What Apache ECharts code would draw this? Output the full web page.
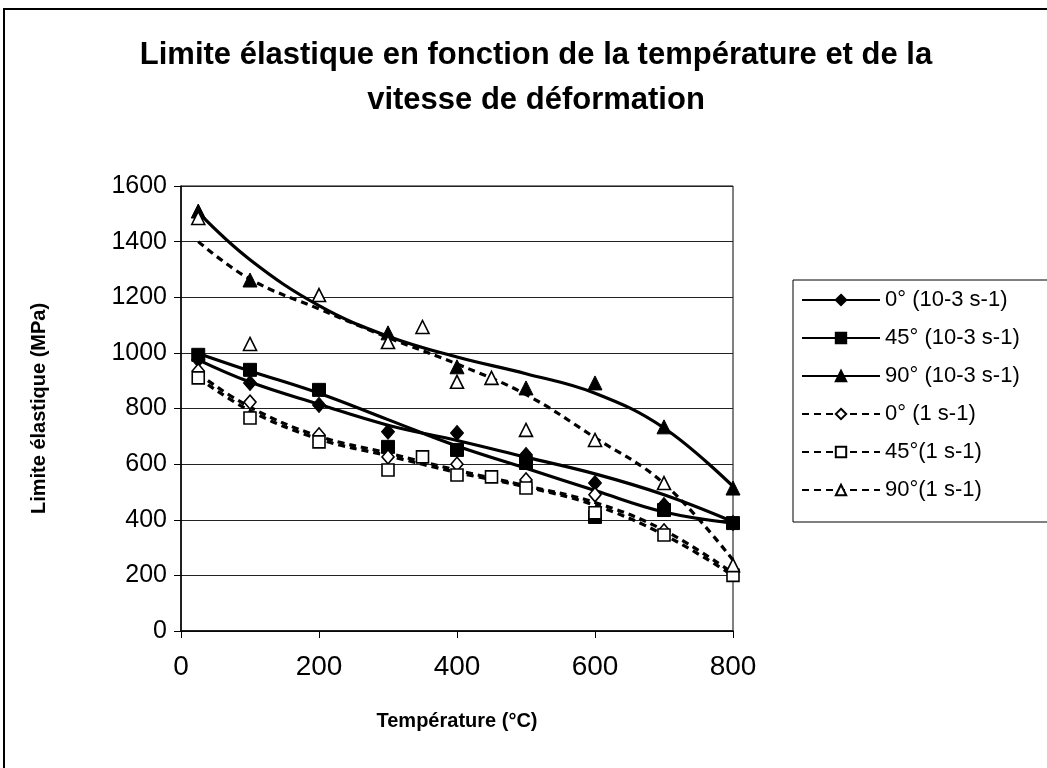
<!DOCTYPE html>
<html>
<head>
<meta charset="utf-8">
<title>Limite élastique</title>
<script src="https://cdn.jsdelivr.net/npm/echarts@6/dist/echarts.min.js"></script>
<style>
    html, body { margin: 0; padding: 0; background: #fff; }
    #container { width: 1047px; height: 768px; }
</style>
</head>
<body>
<div id="container"></div>
<script>
/*températures des essais*/
var tempSlow = [25, 100, 200, 300, 400, 500, 600, 700, 800];
var temp90Slow = [25, 100, 300, 400, 500, 600, 700, 800];
var tempFast = [25, 100, 200, 300, 400, 500, 600, 700, 800];
var tempFast2 = [25, 100, 200, 300, 350, 400, 450, 500, 600, 700, 800];
var tempTrend = [25, 100, 200, 300, 400, 500, 600, 700, 800];

/*points mesurés (MPa)*/
var val0Slow = [975, 892, 813, 716, 712, 633, 532, 453, 388];
var val45Slow = [993, 939, 867, 662, 651, 604, 410, 435, 388];
var val90Slow = [1510, 1262, 1072, 950, 874, 892, 734, 514];
var val0Fast = [935, 823, 705, 626, 600, 543, 490, 360, 212];
var val45Fast = [910, 766, 680, 579, 626, 561, 554, 514, 425, 345, 200];
var val90Fast = [1485, 1032, 1208, 1039, 1093, 896, 910, 723, 687, 532, 237];

/*courbes de tendance*/
var trend0Slow = [975, 895, 815, 740, 685, 625, 565, 490, 393];
var trend45Slow = [998, 935, 855, 760, 665, 585, 505, 428, 388];
var trend90Slow = [1505, 1335, 1170, 1060, 985, 925, 855, 730, 520];
var trend0Fast = [925, 805, 700, 640, 578, 522, 462, 362, 208];
var trend45Fast = [910, 792, 690, 630, 570, 518, 452, 346, 200];
var trend90Fast = [1400, 1265, 1158, 1055, 960, 850, 695, 530, 255];

var names = ['0° (10-3 s-1)', '45° (10-3 s-1)', '90° (10-3 s-1)',
    '0° (1 s-1)', '45°(1 s-1)', '90°(1 s-1)'];

function pairs(xs, ys) {
    var out = [];
    for (var i = 0; i < xs.length; i++) {
        out.push([xs[i], ys[i]]);
    }
    return out;
}

/*style des marqueurs*/
var filled = { color: '#000', borderColor: '#000', borderWidth: 1, opacity: 1 };
var hollow = { color: '#fff', borderColor: '#000', borderWidth: 1.6, opacity: 1 };

function trend(name, ys, symbol, dashed, style) {
    return {
        name: name,
        type: 'line',
        data: pairs(tempTrend, ys),
        smooth: 0.4,
        showSymbol: false,
        symbol: symbol,
        symbolSize: 12,
        itemStyle: style,
        lineStyle: { color: '#000', width: 3.2, type: dashed ? [7, 5] : 'solid' },
        z: 2,
        silent: true
    };
}

function points(name, xs, ys, symbol, size, style) {
    return {
        name: name,
        type: 'scatter',
        data: pairs(xs, ys),
        symbol: symbol,
        symbolSize: size,
        itemStyle: style,
        z: 3
    };
}

var dom = document.getElementById('container');
var myChart = echarts.init(dom);

var option = {
    animation: false,
    backgroundColor: '#fff',
    textStyle: { fontFamily: 'Liberation Sans, Arial, sans-serif', color: '#000' },
    title: {
        text: 'Limite élastique en fonction de la température et de la\nvitesse de déformation',
        left: 531,
        textAlign: 'center',
        top: 28,
        textStyle: { fontSize: 31, fontWeight: 'bold', lineHeight: 45, color: '#000' }
    },
    graphic: [{
        type: 'rect',
        shape: { x: 4, y: 9, width: 1060, height: 790 },
        style: { fill: 'none', stroke: '#000', lineWidth: 2 },
        silent: true
    }],
    legend: {
        orient: 'vertical',
        left: 793,
        top: 280,
        data: names,
        itemWidth: 78,
        itemHeight: 13,
        itemGap: 14,
        padding: [8, 30, 20, 8],
        borderColor: '#000',
        borderWidth: 1,
        textStyle: { fontSize: 22, lineHeight: 24, color: '#000' }
    },
    grid: {
        left: 181,
        right: 314,
        top: 186,
        bottom: 137,
        show: true,
        borderColor: '#000',
        borderWidth: 1
    },
    xAxis: {
        type: 'value',
        min: 0,
        max: 800,
        interval: 200,
        name: 'Température (°C)',
        nameLocation: 'middle',
        nameGap: 80,
        nameTextStyle: { fontSize: 20, fontWeight: 'bold', color: '#000' },
        axisLine: { lineStyle: { color: '#000', width: 1.5 } },
        axisTick: { show: true, length: 7, lineStyle: { color: '#000' } },
        axisLabel: { fontSize: 28, color: '#000', margin: 22 },
        splitLine: { show: false }
    },
    yAxis: {
        type: 'value',
        min: 0,
        max: 1600,
        interval: 200,
        name: 'Limite élastique (MPa)',
        nameLocation: 'middle',
        nameGap: 132,
        nameTextStyle: { fontSize: 20, fontWeight: 'bold', color: '#000' },
        axisLine: { show: true, lineStyle: { color: '#000', width: 1.5 } },
        axisTick: { show: true, length: 7, lineStyle: { color: '#000' } },
        axisLabel: {
            fontSize: 25,
            color: '#000',
            margin: 14,
            formatter: function (value) { return String(value); }
        },
        splitLine: { show: true, lineStyle: { color: '#222', width: 1 } }
    },
    series: [
        /*courbes de tendance (en premier pour la légende)*/
        trend(names[0], trend0Slow, 'diamond', false, filled),
        trend(names[1], trend45Slow, 'rect', false, filled),
        trend(names[2], trend90Slow, 'triangle', false, filled),
        trend(names[3], trend0Fast, 'diamond', true, hollow),
        trend(names[4], trend45Fast, 'rect', true, hollow),
        trend(names[5], trend90Fast, 'triangle', true, hollow),
        /*points*/
        points(names[0], tempSlow, val0Slow, 'diamond', [13, 15], filled),
        points(names[1], tempSlow, val45Slow, 'rect', 13, filled),
        points(names[2], temp90Slow, val90Slow, 'triangle', 14, filled),
        points(names[3], tempFast, val0Fast, 'diamond', [12, 14], hollow),
        points(names[4], tempFast2, val45Fast, 'rect', 12, hollow),
        points(names[5], tempFast2, val90Fast, 'triangle', 13, hollow)
    ]
};

if (option && typeof option === 'object') {
    myChart.setOption(option, true);
}
</script>
</body>
</html>
